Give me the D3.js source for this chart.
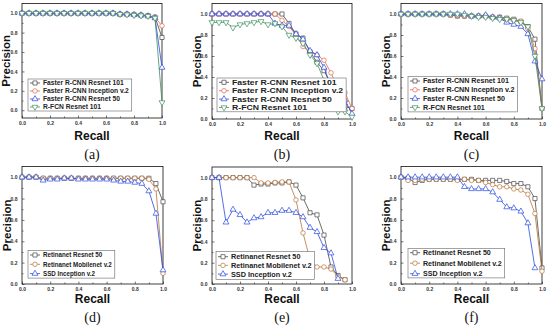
<!DOCTYPE html>
<html>
<head>
<meta charset="utf-8">
<script src="https://cdn.jsdelivr.net/npm/d3@7"></script>
<style>
  body { margin: 0; background: #fff; }
  svg { display: block; }
</style>
</head>
<body>
<svg id="chart" width="550" height="327"></svg>
<script>
// recall sampled every 0.05
const recall = [0, 0.05, 0.1, 0.15, 0.2, 0.25, 0.3, 0.35, 0.4, 0.45, 0.5,
                0.55, 0.6, 0.65, 0.7, 0.75, 0.8, 0.85, 0.9, 0.95, 1.0];
const xTicks = [0, 0.2, 0.4, 0.6, 0.8, 1.0];
const yTicks = [0, 0.2, 0.4, 0.6, 0.8, 1.0];

const fasterNames = ['Faster R-CNN Resnet 101', 'Faster R-CNN Inception v.2',
                     'Faster R-CNN Resnet 50', 'R-FCN Resnet 101'];
const retinaNames = ['Retinanet Resnet 50', 'Retinanet Mobilenet v.2', 'SSD Inception v.2'];

// (a)
const aResnet101 = [1, 1, 1, 1, 1, 1, 1, 1, 1, 1, 1, 1, 1, 1, 0.99, 0.99, 0.985, 0.98, 0.975, 0.96, 0.75];
const aInception = [1, 1, 1, 1, 1, 1, 1, 1, 1, 1, 1, 1, 1, 1, 0.99, 0.99, 0.985, 0.98, 0.975, 0.955, 0.87];
const aResnet50  = [1, 1, 1, 1, 1, 1, 1, 1, 1, 1, 1, 1, 1, 1, 0.99, 0.99, 0.985, 0.98, 0.97, 0.95, 0.44];
const aRfcn      = [1, 1, 1, 1, 1, 1, 1, 1, 1, 1, 1, 1, 1, 1, 0.99, 0.985, 0.98, 0.975, 0.97, 0.95, 0.08];

// (b)
const bResnet101 = [1, 1, 1, 1, 1, 1, 1, 1, 1, 1, 1, 0.91, 0.81, 0.77, 0.64, 0.54, 0.46, 0.33, 0.2, 0.12, 0.1];
const bInception = [1, 1, 1, 1, 1, 1, 1, 1, 1, 1, 0.94, 0.88, 0.8, 0.69, 0.64, 0.61, 0.56, 0.44, 0.29, 0.25, 0.1];
const bResnet50  = [1, 1, 1, 1, 1, 1, 1, 1, 1, 0.91, 0.89, 0.89, 0.81, 0.76, 0.65, 0.61, 0.49, 0.31, 0.29, 0.18, 0.05];
const bRfcn      = [0.92, 0.92, 0.92, 0.87, 0.9, 0.91, 0.92, 0.93, 0.9, 0.91, 0.88, 0.8, 0.77, 0.72, 0.61, 0.53, 0.37, 0.19, 0.07, 0.07, 0.02];

// (c)
const cResnet101 = [1, 1, 1, 1, 1, 1, 1, 0.99, 0.98, 0.98, 0.98, 0.98, 0.98, 0.97, 0.97, 0.96, 0.95, 0.93, 0.88, 0.76, 0.1];
const cInception = [1, 1, 1, 1, 1, 1, 1, 0.99, 0.985, 0.98, 0.98, 0.98, 0.975, 0.97, 0.965, 0.95, 0.94, 0.93, 0.86, 0.67, 0.1];
const cResnet50  = [1, 1, 1, 1, 1, 1, 1, 1, 1, 1, 0.98, 0.98, 0.99, 0.97, 0.96, 0.92, 0.9, 0.88, 0.81, 0.55, 0.38];
const cRfcn      = [1, 1, 1, 1, 1, 1, 1, 1, 1, 0.99, 0.98, 0.97, 0.97, 0.96, 0.95, 0.95, 0.94, 0.92, 0.88, 0.6, 0.1];

// (d)
const dResnet50   = [1, 1, 1, 0.99, 0.99, 0.99, 0.99, 0.99, 0.99, 0.99, 0.99, 0.99, 0.99, 0.99, 0.99, 0.99, 0.99, 0.99, 0.99, 0.94, 0.77];
const dMobilenet  = [1, 1, 1, 0.99, 0.99, 0.99, 0.99, 0.99, 0.99, 0.99, 0.99, 0.99, 0.99, 0.99, 0.99, 0.99, 0.99, 0.99, 0.98, 0.89, 0.1];
const dSsd        = [1, 1, 1, 0.97, 0.98, 0.98, 0.99, 0.99, 0.98, 0.98, 0.98, 0.98, 0.98, 0.97, 0.96, 0.96, 0.95, 0.94, 0.87, 0.66, 0.13];

// (e)
const eResnet50   = [1, 1, 1, 1, 1, 1, 0.93, 0.94, 0.94, 0.95, 0.95, 0.96, 0.93, 0.81, 0.67, 0.65, 0.46, 0.16, 0.08, 0.04, null];
const eMobilenet  = [1, 1, 1, 1, 1, 1, 1, 0.95, 0.95, 0.955, 0.96, 0.96, 0.79, 0.48, 0.23, 0.16, 0.16, 0.14, 0.07, 0.04, null];
const eSsd        = [1, 1, 0.58, 0.7, 0.65, 0.58, 0.62, 0.63, 0.67, 0.67, 0.69, 0.69, 0.67, 0.63, 0.53, 0.49, 0.34, 0.29, 0.05, null, null];

// (f)
const fResnet50   = [1, 0.99, 0.95, 0.97, 0.98, 0.98, 0.98, 0.98, 0.98, 0.98, 0.98, 0.97, 0.97, 0.97, 0.97, 0.96, 0.94, 0.94, 0.91, 0.8, 0.15];
const fMobilenet  = [1, 0.97, 0.97, 0.98, 0.98, 0.98, 0.98, 0.98, 0.97, 0.98, 0.97, 0.97, 0.95, 0.93, 0.91, 0.91, 0.89, 0.88, 0.84, 0.66, 0.12];
const fSsd        = [1, 1, 1, 1, 1, 1, 1, 1, 1, 0.91, 0.89, 0.89, 0.89, 0.86, 0.79, 0.72, 0.71, 0.68, 0.57, 0.15, null];

const topColors = ['#454545', '#e0674a', '#2b45e0', '#3f8f5f'];
const bottomColors = ['#484848', '#b8743a', '#2a4ae0'];
const markers = ['square', 'circle', 'up', 'down'];

// legend text: fs = glyph height, sx = horizontal stretch seen in the figure
const panels = [
  {caption: '(a)', left: 22, right: 162, top: 3.5, bottom: 118, yMin: -0.08,
   series: [aResnet101, aInception, aResnet50, aRfcn], names: fasterNames, colors: topColors,
   legend: {left: 28, top: 79, row0: 83, step: 8, fs: 6.7, sx: 1},
   precisionX: 6, recallY: 136, captionY: 154},
  {caption: '(b)', left: 212, right: 352, top: 3.5, bottom: 119, yMin: 0,
   series: [bResnet101, bInception, bResnet50, bRfcn], names: fasterNames, colors: topColors,
   legend: {left: 217, top: 78, row0: 82.3, step: 8.4, fs: 7, sx: 1.24},
   precisionX: 197, recallY: 136, captionY: 154},
  {caption: '(c)', left: 401, right: 542, top: 3.5, bottom: 119, yMin: 0,
   series: [cResnet101, cInception, cResnet50, cRfcn], names: fasterNames, colors: topColors,
   legend: {left: 408, top: 76.5, row0: 81, step: 8.8, fs: 7, sx: 1.02},
   precisionX: 386, recallY: 136, captionY: 154},
  {caption: '(d)', left: 22, right: 163, top: 166.5, bottom: 284, yMin: 0,
   series: [dResnet50, dMobilenet, dSsd], names: retinaNames, colors: bottomColors,
   legend: {left: 28, top: 250.5, row0: 255, step: 9.3, fs: 6.4, sx: 0.97},
   precisionX: 6.5, recallY: 299, captionY: 317},
  {caption: '(e)', left: 212, right: 352, top: 167, bottom: 284, yMin: 0,
   series: [eResnet50, eMobilenet, eSsd], names: retinaNames, colors: bottomColors,
   legend: {left: 216, top: 251.5, row0: 256.7, step: 8.7, fs: 7, sx: 1.04},
   precisionX: 197, recallY: 299, captionY: 317},
  {caption: '(f)', left: 401, right: 542, top: 166.5, bottom: 284, yMin: 0,
   series: [fResnet50, fMobilenet, fSsd], names: retinaNames, colors: bottomColors,
   legend: {left: 408, top: 248.5, row0: 252.7, step: 10.5, fs: 7.1, sx: 1},
   precisionX: 386, recallY: 299, captionY: 317}
];

const svg = d3.select('#chart');
const sans = 'Liberation Sans, Arial, sans-serif';

function markerPath(kind) {
  if (kind === 'square') return d3.symbol(d3.symbolSquare, 17)();
  if (kind === 'circle') return d3.symbol(d3.symbolCircle, 16)();
  return d3.symbol(d3.symbolTriangle, 15)();
}

function drawMarker(g, kind, x, y, color) {
  g.append('path')
    .attr('d', markerPath(kind))
    .attr('transform', `translate(${x},${y})` + (kind === 'down' ? ' rotate(180)' : ''))
    .attr('fill', '#fff')
    .attr('stroke', color)
    .attr('stroke-width', 0.7);
}

panels.forEach(p => {
  const g = svg.append('g');
  const x = d3.scaleLinear().domain([0, 1]).range([p.left, p.right]);
  const y = d3.scaleLinear().domain([p.yMin, 1.1]).range([p.bottom, p.top]);

  // minor ticks
  g.append('g')
    .attr('transform', `translate(0,${p.bottom})`)
    .call(d3.axisBottom(x).tickValues([0.1, 0.3, 0.5, 0.7, 0.9]).tickSize(-1.5).tickFormat(''))
    .call(a => a.select('.domain').remove());
  g.append('g')
    .attr('transform', `translate(${p.left},0)`)
    .call(d3.axisLeft(y).tickValues([0.1, 0.3, 0.5, 0.7, 0.9]).tickSize(-1.5).tickFormat(''))
    .call(a => a.select('.domain').remove());

  const xAxis = g.append('g')
    .attr('transform', `translate(0,${p.bottom})`)
    .call(d3.axisBottom(x).tickValues(xTicks).tickSize(-2.5).tickPadding(3).tickFormat(d3.format('.1f')));
  const yAxis = g.append('g')
    .attr('transform', `translate(${p.left},0)`)
    .call(d3.axisLeft(y).tickValues(yTicks).tickSize(-2.5).tickPadding(4.5).tickFormat(d3.format('.1f')));
  [xAxis, yAxis].forEach(a => {
    a.select('.domain').remove();
    a.selectAll('text')
      .attr('font-family', sans)
      .attr('font-size', 5)
      .attr('font-weight', 'bold')
      .attr('fill', '#333');
  });
  g.selectAll('.tick line').attr('stroke', '#222').attr('stroke-width', 0.6);

  // frame
  g.append('rect')
    .attr('x', p.left).attr('y', p.top)
    .attr('width', p.right - p.left).attr('height', p.bottom - p.top)
    .attr('fill', 'none').attr('stroke', '#111').attr('stroke-width', 0.8);

  const line = d3.line()
    .defined(d => d[1] != null)
    .x(d => x(d[0]))
    .y(d => y(d[1]));

  p.series.forEach((vals, i) => {
    const pts = recall.map((r, k) => [r, vals[k]]);
    const color = p.colors[i];
    g.append('path')
      .attr('d', line(pts))
      .attr('fill', 'none')
      .attr('stroke', color)
      .attr('stroke-width', 0.8);
    const mg = g.append('g');
    pts.filter(d => d[1] != null).forEach(d => drawMarker(mg, markers[i], x(d[0]), y(d[1]), color));
  });

  // legend
  const L = p.legend;
  const lg = g.append('g');
  const box = lg.append('rect');
  let maxRight = 0;
  p.names.forEach((name, i) => {
    const ry = L.row0 + i * L.step;
    const x0 = L.left + 2, x1 = L.left + 12;
    lg.append('line')
      .attr('x1', x0).attr('x2', x1).attr('y1', ry).attr('y2', ry)
      .attr('stroke', p.colors[i]).attr('stroke-width', 0.8);
    drawMarker(lg, markers[i], (x0 + x1) / 2, ry, p.colors[i]);
    const t = lg.append('text')
      .attr('transform', `translate(${x1 + 3},${ry}) scale(${L.sx},1)`)
      .attr('dy', '0.35em')
      .attr('font-family', sans)
      .attr('font-size', L.fs)
      .attr('font-weight', 'bold')
      .attr('fill', '#222')
      .text(name);
    maxRight = Math.max(maxRight, x1 + 3 + t.node().getComputedTextLength() * L.sx);
  });
  const boxBottom = L.row0 + (p.names.length - 1) * L.step + (L.row0 - L.top);
  box.attr('x', L.left).attr('y', L.top)
    .attr('width', maxRight + 3 - L.left).attr('height', boxBottom - L.top)
    .attr('fill', '#fff').attr('stroke', '#666').attr('stroke-width', 0.6);

  // axis titles
  g.append('text')
    .attr('transform', `translate(${p.precisionX + 4},${(p.top + p.bottom) / 2}) rotate(-90)`)
    .attr('text-anchor', 'middle')
    .attr('font-family', sans)
    .attr('font-size', 11.5)
    .attr('font-weight', 'bold')
    .attr('fill', '#111')
    .text('Precision');
  g.append('text')
    .attr('x', (p.left + p.right) / 2).attr('y', p.recallY + 4)
    .attr('text-anchor', 'middle')
    .attr('font-family', sans)
    .attr('font-size', 12)
    .attr('font-weight', 'bold')
    .attr('fill', '#111')
    .text('Recall');
  g.append('text')
    .attr('x', (p.left + p.right) / 2).attr('y', p.captionY + 4.5)
    .attr('text-anchor', 'middle')
    .attr('font-family', 'Liberation Serif, Times New Roman, serif')
    .attr('font-size', 14)
    .attr('fill', '#111')
    .text(p.caption);
});
</script>
</body>
</html>
